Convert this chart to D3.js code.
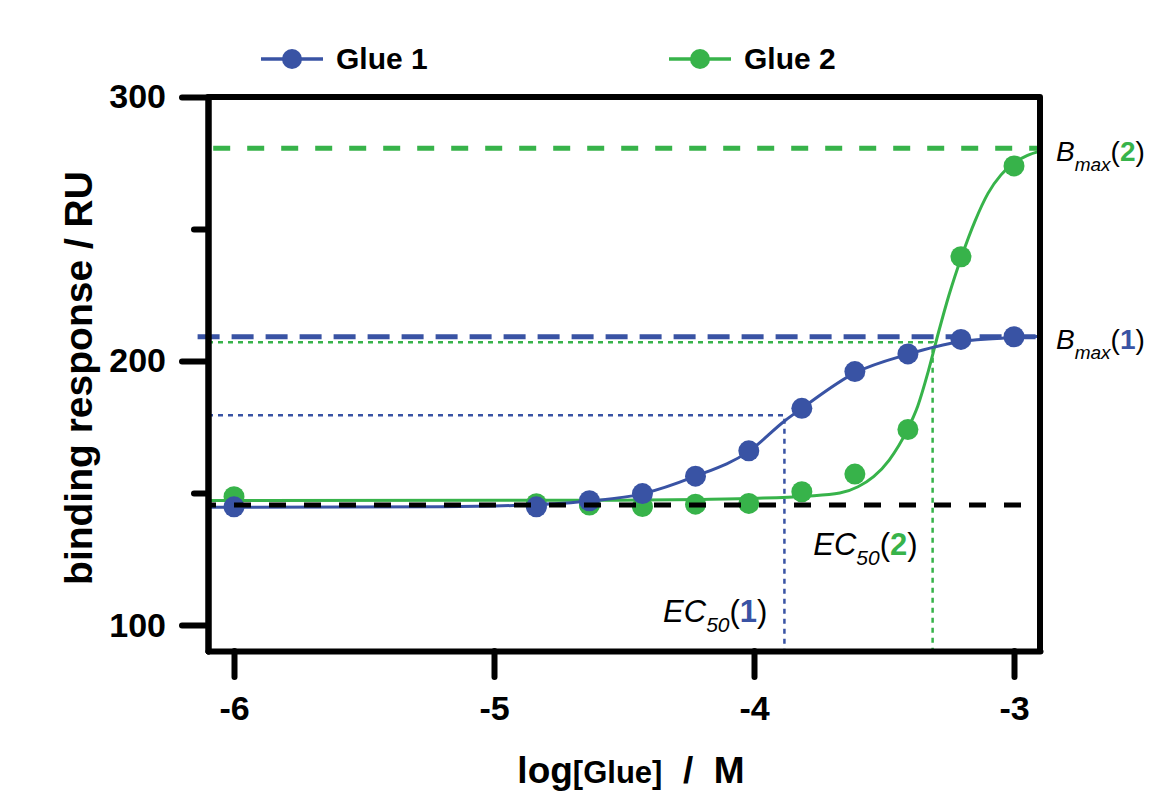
<!DOCTYPE html>
<html>
<head>
<meta charset="utf-8">
<title>Glue binding response</title>
<script src="https://d3js.org/d3.v7.min.js"></script>
<style>
  body { margin: 0; background: #fff; }
  svg { display: block; font-family: "Liberation Sans", Arial, Helvetica, sans-serif; }
  .axis path, .axis line { stroke: #000; stroke-width: 6; stroke-linecap: round; }
  .axis text { font-size: 34px; font-weight: bold; fill: #000; font-family: "Liberation Sans", Arial, sans-serif; }
</style>
</head>
<body>
<script>
// measured points, log[Glue] / M
var logConc = [-6, -4.837, -4.633, -4.429, -4.225, -4.02, -3.816, -3.612, -3.408, -3.204, -3.0];
var glue1 = [144.8, 144.8, 147.1, 149.8, 156.4, 166.0, 182.1, 196.0, 202.7, 208.2, 209.2];
var glue2 = [148.6, 146.0, 145.5, 144.9, 145.8, 146.1, 150.5, 157.2, 174.1, 239.5, 273.9];

// fitted curves
var fit1X = [-6.1, -5.2, -4.9, -4.63, -4.43, -4.23, -4.02, -3.88, -3.82, -3.61, -3.41, -3.21, -3.0, -2.9];
var fit1Y = [144.6, 144.8, 145.4, 147.0, 149.7, 156.2, 165.8, 177.5, 181.8, 195.6, 202.5, 207.3, 208.9, 209.4];
var fit2X = [-6.1, -4.6, -4.2, -4.0, -3.8, -3.67, -3.6, -3.54, -3.48, -3.41, -3.37, -3.33, -3.29, -3.25, -3.2, -3.15, -3.1, -3.05, -3.0, -2.95, -2.9];
var fit2Y = [147.2, 147.3, 147.6, 148.0, 148.8, 150.0, 152.4, 156.2, 162.5, 174.0, 183.0, 196.0, 211.0, 225.0, 240.0, 253.0, 263.5, 270.5, 275.0, 277.8, 279.5];

// reference values: [glue 1, glue 2]
var bmax = [209.2, 280.6];
var halfMax = [179.5, 207.1];
var ec50 = [-3.883, -3.313];
var baseline = 145.5;

var series = ["Glue 1", "Glue 2"];
var colors = ["#3953a4", "#37b34a"];
var yMajor = [100, 200, 300];
var yMinor = [150, 250];
var xTicks = [-6, -5, -4, -3];

var w = 1152, h = 792;
var xDomain = [-6.1, -2.9], yDomain = [90.2, 300];

var svg = d3.select("body").append("svg")
    .attr("width", w)
    .attr("height", h);

var x = d3.scaleLinear().domain(xDomain).range([208, 1040]);
var y = d3.scaleLinear().domain(yDomain).range([651, 97]);

var line = d3.line()
    .x(function(d) { return x(d[0]); })
    .y(function(d) { return y(d[1]); })
    .curve(d3.curveMonotoneX);

// dotted EC50 guides
var plot = svg.append("g");
[0, 1].forEach(function(i) {
    plot.append("path")
        .attr("d", "M" + x(xDomain[0]) + "," + y(halfMax[i]) +
                   "H" + x(ec50[i]) + "V" + y(yDomain[0]))
        .attr("fill", "none")
        .attr("stroke", colors[i])
        .attr("stroke-width", 2.5)
        .attr("stroke-dasharray", "5,5");
});

// Bmax dashed lines
plot.append("line")
    .attr("x1", x(-6.08)).attr("x2", x(xDomain[1]))
    .attr("y1", y(bmax[1])).attr("y2", y(bmax[1]))
    .attr("stroke", colors[1]).attr("stroke-width", 5)
    .attr("stroke-dasharray", "17,17");
plot.append("line")
    .attr("x1", x(-6.14)).attr("x2", x(xDomain[1]))
    .attr("y1", y(bmax[0])).attr("y2", y(bmax[0]))
    .attr("stroke", colors[0]).attr("stroke-width", 5)
    .attr("stroke-dasharray", "22,12");

// curves and points, glue 2 below glue 1
var values = [glue1, glue2];
var fits = [d3.zip(fit1X, fit1Y), d3.zip(fit2X, fit2Y)];
[1, 0].forEach(function(i) {
    plot.append("path")
        .datum(fits[i])
        .attr("d", line)
        .attr("fill", "none")
        .attr("stroke", colors[i])
        .attr("stroke-width", 3);
    plot.append("g")
        .selectAll("circle")
        .data(d3.zip(logConc, values[i]))
        .enter().append("circle")
        .attr("cx", function(d) { return x(d[0]); })
        .attr("cy", function(d) { return y(d[1]); })
        .attr("r", 10.5)
        .attr("fill", colors[i]);
});

// baseline
plot.append("line")
    .attr("x1", x(xDomain[0])).attr("x2", x(xDomain[1]))
    .attr("y1", y(baseline)).attr("y2", y(baseline))
    .attr("stroke", "#000").attr("stroke-width", 5)
    .attr("stroke-dasharray", "17,18")
    .attr("stroke-dashoffset", 9);

// axes
svg.append("g")
    .attr("class", "axis")
    .attr("transform", "translate(" + x(xDomain[0]) + ",0)")
    .call(d3.axisLeft(y).tickValues(yMajor).tickSize(26).tickSizeOuter(0).tickPadding(16));
svg.append("g")
    .attr("class", "axis")
    .attr("transform", "translate(" + x(xDomain[0]) + ",0)")
    .call(d3.axisLeft(y).tickValues(yMinor).tickSize(14).tickSizeOuter(0).tickFormat(""));
svg.append("g")
    .attr("class", "axis")
    .attr("transform", "translate(0," + y(yDomain[0]) + ")")
    .call(d3.axisBottom(x).tickValues(xTicks).tickSize(26).tickSizeOuter(0).tickPadding(19)
        .tickFormat(d3.format("d")));
svg.selectAll(".axis text").text(function() { return this.textContent.replace("−", "-"); });

// top and right frame
svg.append("path")
    .attr("d", "M" + x(xDomain[0]) + "," + y(yDomain[1]) + "H" + x(xDomain[1]) + "V" + y(yDomain[0]))
    .attr("fill", "none")
    .attr("stroke", "#000")
    .attr("stroke-width", 6)
    .attr("stroke-linecap", "round")
    .attr("stroke-linejoin", "round");

// axis titles
svg.append("text")
    .attr("transform", "translate(92,378) rotate(-90)")
    .attr("text-anchor", "middle")
    .style("font-size", "39px")
    .style("font-weight", "bold")
    .text("binding response / RU");

var xt = svg.append("text")
    .attr("x", 631).attr("y", 783)
    .attr("text-anchor", "middle")
    .style("font-weight", "bold")
    .style("font-size", "37px")
    .style("white-space", "pre");
xt.append("tspan").text("log");
xt.append("tspan").style("font-size", "31px").text("[Glue]");
xt.append("tspan").text("  /  M");

// legend
var legend = svg.selectAll("g.legend")
    .data(series)
    .enter().append("g")
    .attr("class", "legend")
    .attr("transform", function(d, i) { return "translate(" + (261 + i * 408) + ",59)"; });
legend.append("line")
    .attr("x1", 0).attr("x2", 62)
    .attr("stroke", function(d, i) { return colors[i]; })
    .attr("stroke-width", 3.5);
legend.append("circle")
    .attr("cx", 31).attr("r", 10)
    .attr("fill", function(d, i) { return colors[i]; });
legend.append("text")
    .attr("x", 75).attr("y", 10)
    .style("font-size", "30px")
    .style("font-weight", "bold")
    .text(function(d) { return d; });

// annotations like B_max(n) and EC_50(n)
function annot(px, py, main, sub, n, anchor, size) {
    var t = svg.append("text")
        .attr("x", px).attr("y", py)
        .attr("text-anchor", anchor)
        .style("font-size", size + "px")
        .style("font-style", "italic");
    t.append("tspan").text(main);
    t.append("tspan").attr("dy", 10).style("font-size", Math.round(size * 0.68) + "px").text(sub);
    t.append("tspan").attr("dy", -10).style("font-style", "normal").text("(");
    t.append("tspan").style("font-style", "normal").style("font-weight", "bold")
        .attr("fill", colors[n - 1]).text(n);
    t.append("tspan").style("font-style", "normal").text(")");
}
annot(x(xDomain[1]) + 16, y(bmax[1]) + 13, "B", "max", 2, "start", 28);
annot(x(xDomain[1]) + 16, y(bmax[0]) + 12, "B", "max", 1, "start", 28);
annot(x(ec50[0]) - 17, 622, "EC", "50", 1, "end", 31);
annot(x(ec50[1]) - 15, 555, "EC", "50", 2, "end", 31);
</script>
</body>
</html>
